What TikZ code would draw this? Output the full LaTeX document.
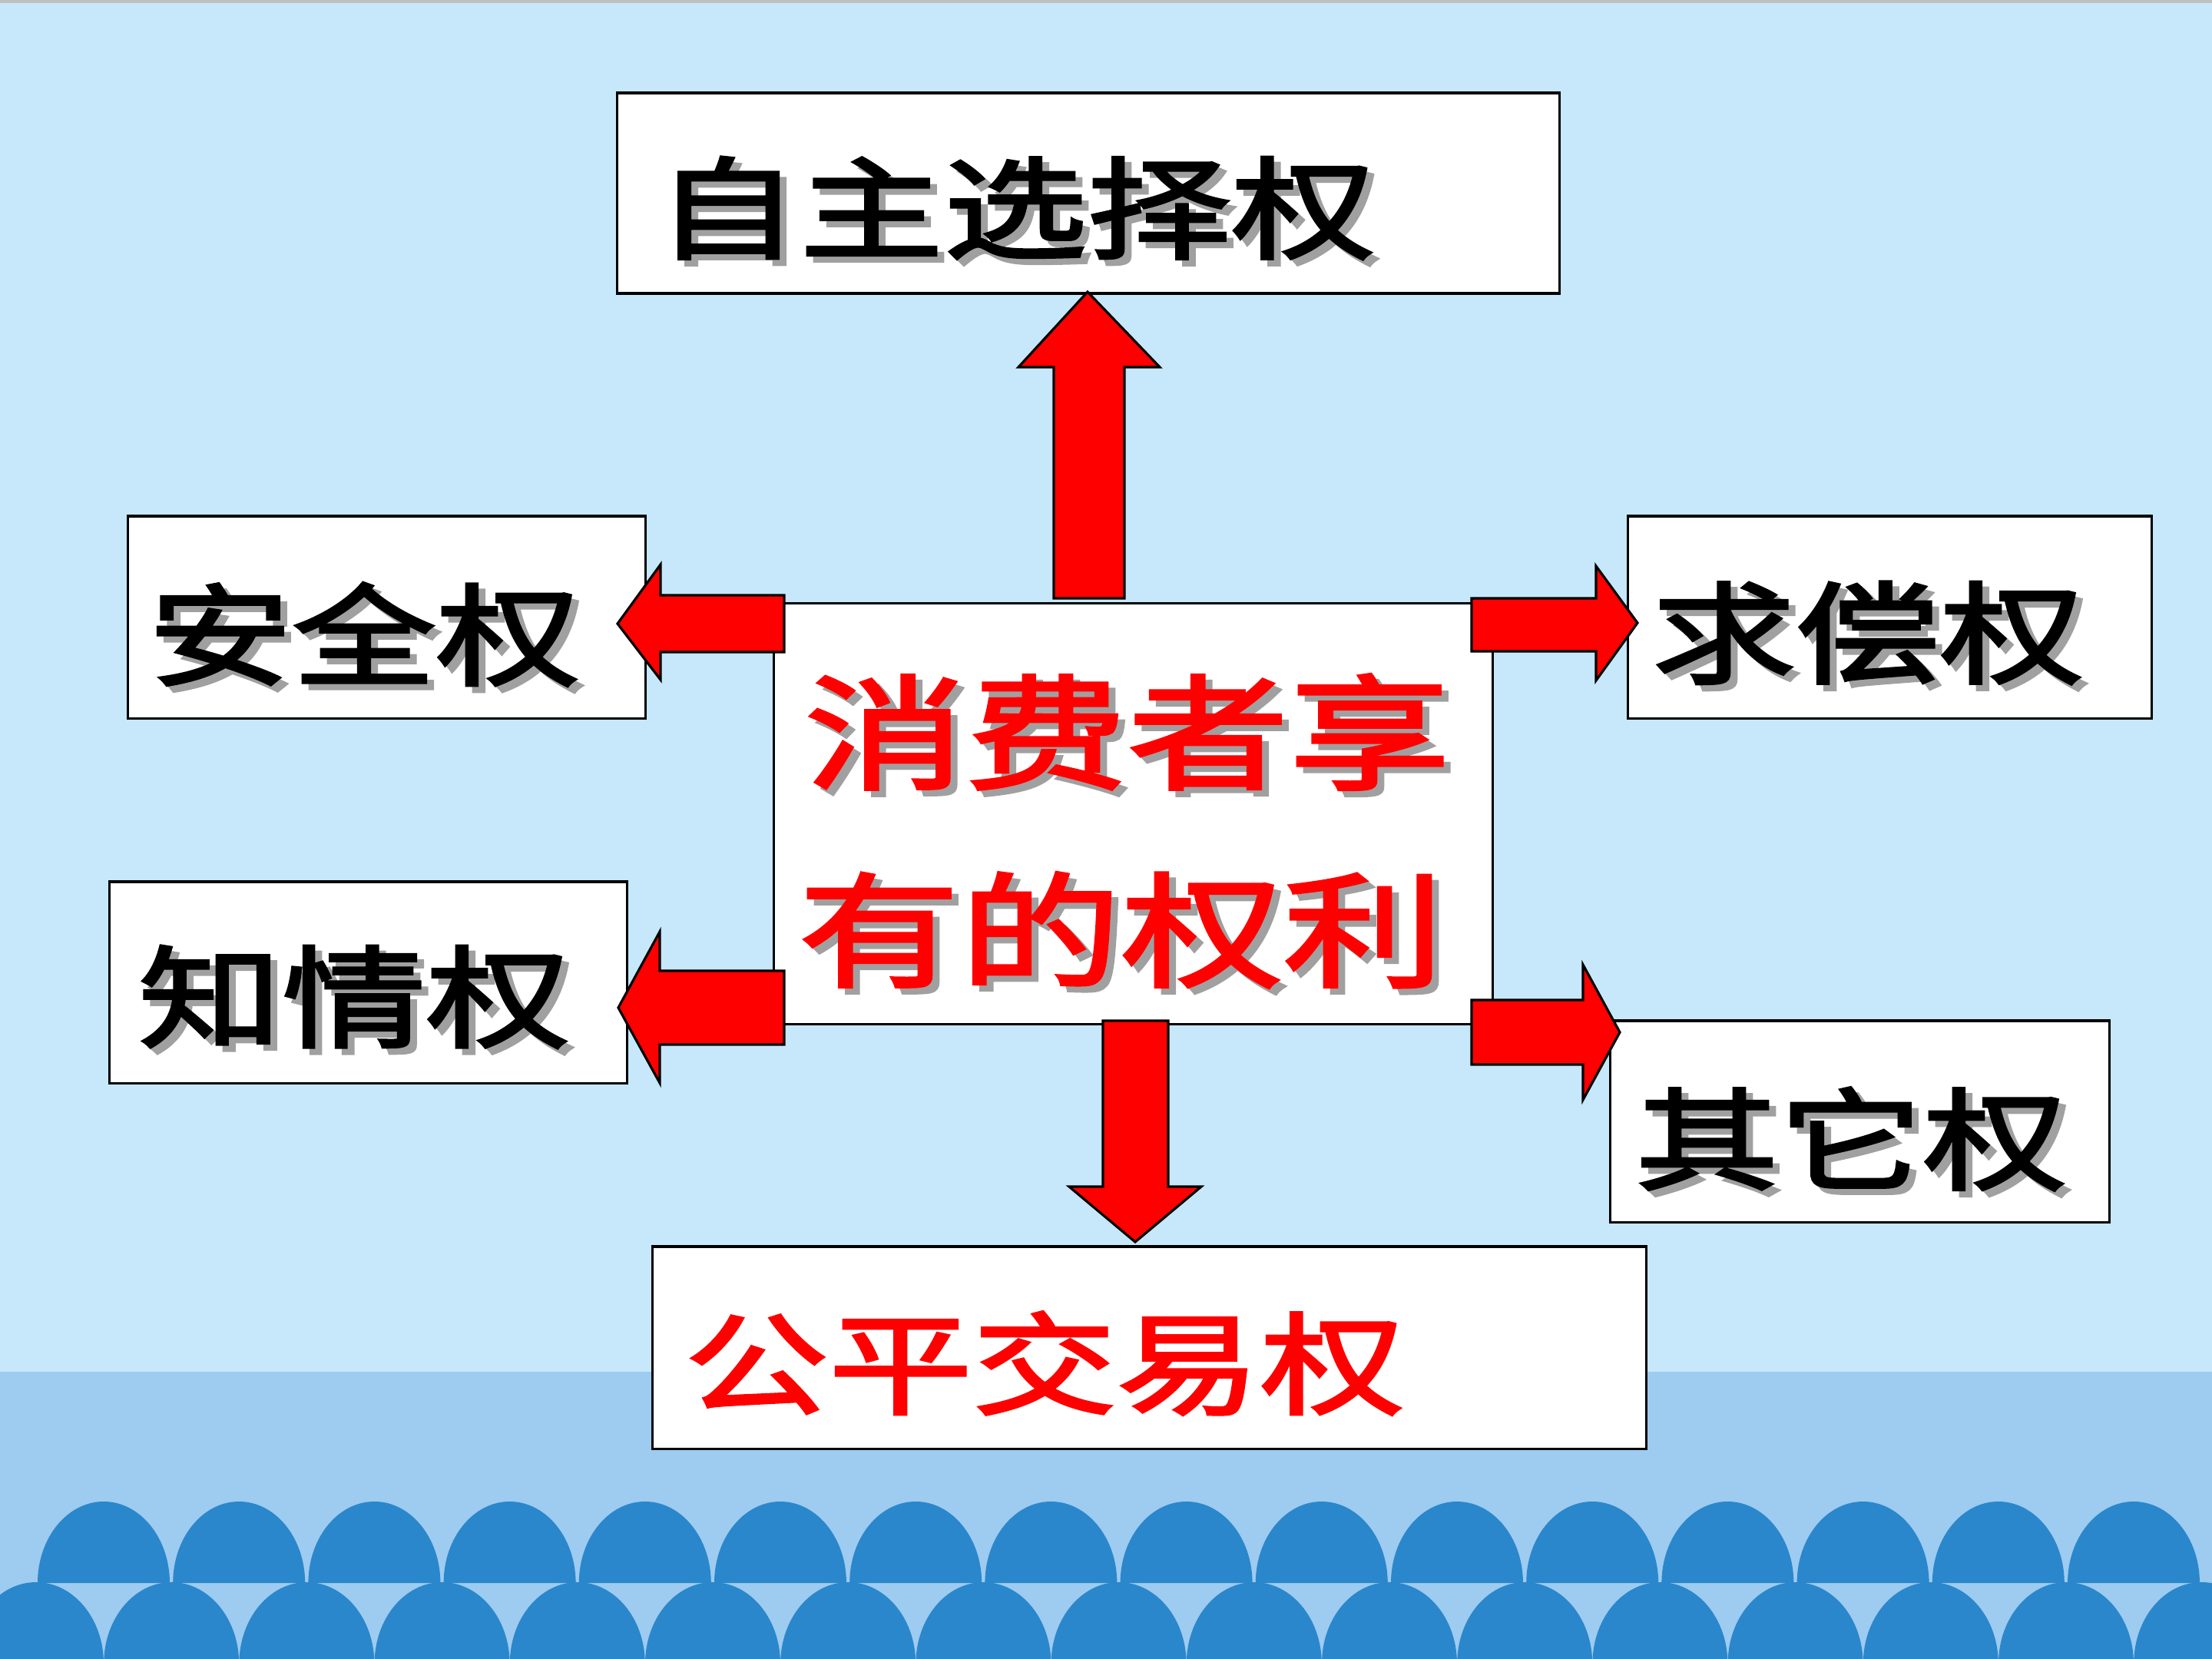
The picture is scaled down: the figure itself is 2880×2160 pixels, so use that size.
\documentclass[tikz,border=0pt]{standalone}
\usepackage{fontspec}
\newfontfamily\cjk[FakeStretch=1.3,FakeBold=2.5]{Noto Sans CJK SC}
\definecolor{skytop}{RGB}{198,232,250}
\definecolor{band}{RGB}{158,203,240}
\definecolor{wave}{RGB}{42,135,204}
\definecolor{shadowgray}{RGB}{160,160,160}
\definecolor{topline}{RGB}{192,192,192}
\tikzset{
  box/.style={draw=black, line width=0.9pt, fill=white, inner sep=0pt},
  barrow/.style={draw=black, fill=red, line width=0.9pt, line join=miter},
  lbl/.style={inner sep=0pt, font=\cjk\fontsize{41}{41}\selectfont},
  biglbl/.style={font=\cjk\fontsize{46}{46}\selectfont},
}
% text with a grey drop shadow, set as one node
\newcommand\ShLbl[5][]{%
  \node[lbl,#1,text=#5] (#3) at (#2)
    {\rlap{\smash{\kern0.09cm\raisebox{-0.08cm}{\textcolor{shadowgray}{#4}}}}#4};}
\begin{document}
\begin{tikzpicture}[x=0.01cm,y=-0.01cm]
\useasboundingbox (0,0) rectangle (2880,2160);
% background
\fill[skytop] (0,0) rectangle (2880,1786);
\fill[topline] (0,0) rectangle (2880,4);
\fill[band] (0,1786) rectangle (2880,2160);
% waves: upper row
\foreach \k in {0,...,15}{
  \pgfmathsetmacro\cx{135+176.2*\k}
  \fill[wave] (\cx-86,2061) arc[start angle=180,end angle=360,x radius=86,y radius=106] -- cycle;
}
% waves: lower row
\foreach \k in {0,...,16}{
  \pgfmathsetmacro\cx{47+176.2*\k}
  \fill[wave] (\cx-88,2166) arc[start angle=180,end angle=360,x radius=88,y radius=106] -- cycle;
}
% boxes
\node[box, minimum width=12.26cm, minimum height=2.61cm] (top) at (1417,251.5) {};
\node[box, minimum width=6.73cm, minimum height=2.63cm] (anquan) at (503.5,803.5) {};
\node[box, minimum width=9.35cm, minimum height=5.47cm] (center) at (1475.5,1059.5) {};
\node[box, minimum width=6.73cm, minimum height=2.62cm] (zhiqing) at (479.5,1279) {};
\node[box, minimum width=6.81cm, minimum height=2.63cm] (qiuchang) at (2460.5,803.5) {};
\node[box, minimum width=6.49cm, minimum height=2.62cm] (qita) at (2421.5,1460) {};
\node[box, minimum width=12.93cm, minimum height=2.63cm] (gongping) at (1496.5,1754.5) {};
% block arrows (center -> boxes)
\draw[barrow] (1372,779) -- (1372,478) -- (1326,478) -- (1416,380) -- (1510,478) -- (1464,478) -- (1464,779) -- cycle;
\draw[barrow] (1021,775) -- (860,775) -- (860,735) -- (804,812) -- (860,885) -- (860,849) -- (1021,849) -- cycle;
\draw[barrow] (1021,1264) -- (859,1264) -- (859,1213) -- (805,1312) -- (859,1410) -- (859,1360) -- (1021,1360) -- cycle;
\draw[barrow] (1916,779) -- (2078,779) -- (2078,737) -- (2132,811) -- (2078,886) -- (2078,848) -- (1916,848) -- cycle;
\draw[barrow] (1916,1302) -- (2061,1302) -- (2061,1256) -- (2109,1344) -- (2061,1432) -- (2061,1386) -- (1916,1386) -- cycle;
\draw[barrow] (1436,1329) -- (1436,1545) -- (1392,1545) -- (1478,1617) -- (1564,1545) -- (1521,1545) -- (1521,1329) -- cycle;
% labels
\ShLbl{1322,271}{t1}{自主选择权}{black}
\ShLbl{474,826}{t2}{安全权}{black}
\ShLbl{2432,824}{t3}{求偿权}{black}
\ShLbl{461,1298}{t4}{知情权}{black}
\ShLbl{2410,1483}{t5}{其它权}{black}
\ShLbl[biglbl]{1468,953}{t6}{消费者享}{red}
\ShLbl[biglbl]{1460,1211}{t7}{有的权利}{red}
\node[lbl,text=red] (t8) at (1360,1775) {公平交易权};
\end{tikzpicture}
\end{document}
